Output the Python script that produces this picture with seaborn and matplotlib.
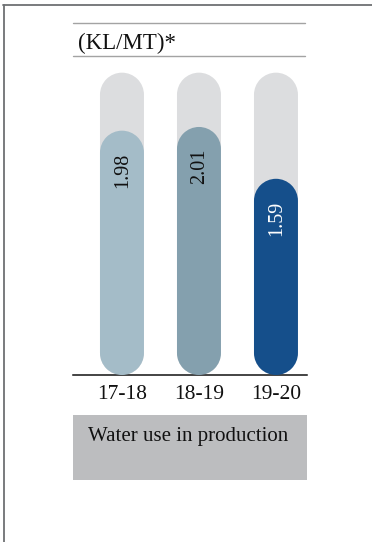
import matplotlib
matplotlib.use("Agg")
import matplotlib.pyplot as plt
import seaborn as sns
import pandas as pd
import numpy as np
from matplotlib.patches import PathPatch, Rectangle
from matplotlib.path import Path
from matplotlib.lines import Line2D

years = ['17-18', '18-19', '19-20']
water_use = [1.98, 2.01, 1.59]
track_max = [2.45, 2.45, 2.45]
bar_colors = ['#a4bcc8', '#84a0ae', '#154f8b']
label_colors = ['#111111', '#111111', '#ffffff']
unit_label = '(KL/MT)*'
caption = 'Water use in production'

W, H = 372, 542
sns.set_style("white")
plt.rcParams['font.family'] = ['Liberation Serif', 'DejaVu Serif']

fig = plt.figure(figsize=(W / 100, H / 100), dpi=100)


def fx(px):
    return px / W


def fy(py):
    return 1 - py / H


def pill_path(x, y, w, h, ry):
    # rectangle with semicircle ends, rx = w/2 in x units, ry in y units
    rx = w / 2
    cx = x + rx
    top = Path.arc(0, 180)
    bot = Path.arc(180, 360)
    tv = top.vertices * [rx, ry] + [cx, y + h - ry]
    bv = bot.vertices * [rx, ry] + [cx, y + ry]
    verts = np.vstack([tv, bv, tv[:1]])
    codes = np.concatenate([top.codes, [Path.LINETO], bot.codes[1:], [Path.CLOSEPOLY]])
    return Path(verts, codes)


# axes box in pixels: left 73, right 307, top 60, bottom 375
ax = fig.add_axes([fx(73), fy(375), (307 - 73) / W, (375 - 60) / H])

df = pd.DataFrame({'year': years, 'value': water_use, 'track': track_max})
sns.barplot(data=df, x='year', y='track', color='#dcdddf', width=0.571,
            saturation=1, ax=ax)
sns.barplot(data=df, x='year', y='value', hue='year', palette=bar_colors,
            width=0.571, saturation=1, legend=False, ax=ax)

ax.set_xlim(-0.636, 2.403)
ax.set_ylim(0, 315 / 123.4)

# make the bars pill shaped
px_x = (307 - 73) / (2.403 + 0.636)
px_y = 123.4
for i, p in enumerate(list(ax.patches)):
    x, y = p.get_xy()
    w, h = p.get_width(), p.get_height()
    fc = p.get_facecolor()
    p.remove()
    ry = (w / 2) * px_x / px_y
    ax.add_patch(PathPatch(pill_path(x, y, w, h, ry), fc=fc, ec='none',
                           zorder=2 + (i >= 3)))

for i, v in enumerate(water_use):
    ax.annotate(f'{v:.2f}', xy=(i, v), xytext=(1, -22), textcoords='offset pixels',
                rotation=90, ha='center', va='top', fontsize=14.5,
                color=label_colors[i], zorder=5)

sns.despine(ax=ax, left=True)
ax.spines['bottom'].set_color('#111111')
ax.spines['bottom'].set_linewidth(1.1)
ax.set_yticks([])
ax.set_xlabel('')
ax.set_ylabel('')
ax.tick_params(axis='x', length=0, pad=7, labelsize=15.5, labelcolor='#111111')
ax.patch.set_alpha(0)

# header with unit
fig.add_artist(Line2D([fx(73), fx(305)], [fy(22.5), fy(22.5)], color='#a3a3a3', lw=1))
fig.add_artist(Line2D([fx(73), fx(305)], [fy(56), fy(56)], color='#a3a3a3', lw=1))
fig.text(fx(78), fy(49.5), unit_label, fontsize=16.5, va='baseline', ha='left',
         color='#111111')

# caption box
fig.add_artist(Rectangle((fx(73), fy(480)), (307 - 73) / W, (480 - 415) / H,
                         transform=fig.transFigure, fc='#bcbdbf', ec='none'))
fig.text(fx(88), fy(441.5), caption, fontsize=15, va='baseline', ha='left',
         color='#111111')

# frame lines on top and left
fig.add_artist(Line2D([fx(3.3), 1], [fy(5.2), fy(5.2)], color='#6e7173', lw=1.3))
fig.add_artist(Line2D([fx(4.1), fx(4.1)], [fy(5.2), 0], color='#6e7173', lw=1.3))

fig.savefig('out.png', dpi=100)
